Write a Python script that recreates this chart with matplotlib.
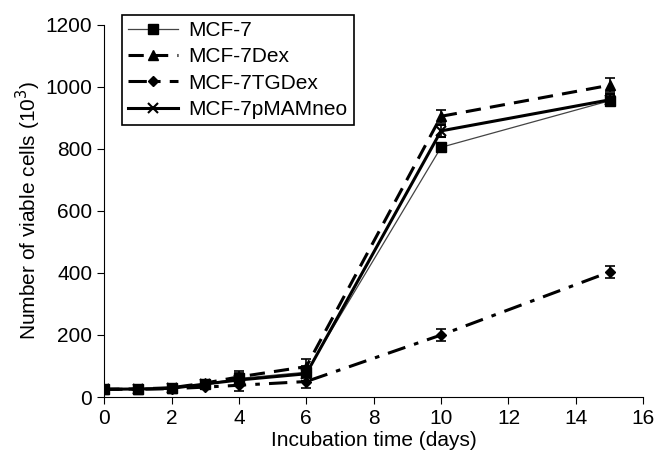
import matplotlib.pyplot as plt
import numpy as np

plt.rcParams['font.family'] = ['Liberation Sans', 'DejaVu Sans']

days = [0, 1, 2, 3, 4, 6, 10, 15]
mcf7 = [25, 26, 28, 42, 60, 80, 805, 955]
mcf7_dex = [25, 26, 30, 45, 65, 98, 905, 1005]
mcf7_tgdex = [25, 25, 27, 32, 38, 50, 200, 403]
mcf7_pmam = [25, 26, 28, 42, 55, 75, 858, 958]
err_mcf7 = [5, 4, 4, 6, 18, 20, 15, 18]
err_dex = [5, 4, 4, 6, 20, 25, 20, 22]
err_tgdex = [5, 4, 4, 6, 18, 20, 18, 20]
err_pmam = [5, 4, 4, 6, 18, 22, 20, 18]

series = [
    ("MCF-7", mcf7, err_mcf7, dict(color='#444444', lw=0.9, ls='-', marker='s', ms=7,
                                   mfc='black', mec='black')),
    ("MCF-7Dex", mcf7_dex, err_dex, dict(color='black', lw=2.2, ls=(0, (5, 3)), marker='^', ms=7)),
    ("MCF-7TGDex", mcf7_tgdex, err_tgdex, dict(color='black', lw=2.2, ls=(0, (6, 3, 1.5, 3)), marker='D', ms=5)),
    ("MCF-7pMAMneo", mcf7_pmam, err_pmam, dict(color='black', lw=2.2, ls='-', marker='x', ms=7, mew=1.5)),
]

fig = plt.figure(figsize=(6.55, 4.59), dpi=100)
ax = fig.add_axes([0.159, 0.135, 0.823, 0.811])

handles = []
for label, vals, err, style in series:
    c = ax.errorbar(days, vals, yerr=err, label=label, capsize=3.5, elinewidth=1.2,
                    ecolor='black', capthick=1.2, **style)
    handles.append(c[0])

ax.set_xlim(0, 16)
ax.set_ylim(0, 1200)
ax.set_xticks(np.arange(0, 17, 2))
ax.set_yticks(np.arange(0, 1201, 200))
ax.spines['top'].set_visible(False)
ax.spines['right'].set_visible(False)
ax.tick_params(direction='out', length=5, labelsize=15)
ax.set_xlabel("Incubation time (days)", fontsize=15, labelpad=2)
ax.set_ylabel("Number of viable cells (10$^3$)", fontsize=15, labelpad=2)

leg = ax.legend(handles, [s[0] for s in series], loc='upper left',
                bbox_to_anchor=(0.033, 1.027), borderaxespad=0,
                fontsize=15, handlelength=2.4, labelspacing=0.35, fancybox=False,
                framealpha=1, edgecolor='black', borderpad=0.3, handletextpad=0.5)
leg.get_frame().set_linewidth(1.2)

fig.savefig("out.png", dpi=100)
